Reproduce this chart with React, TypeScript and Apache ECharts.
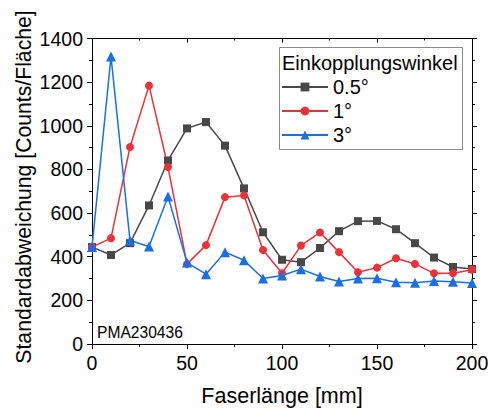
import React, { useEffect, useRef } from "react";
import * as echarts from "echarts";

const fiberLength = [0, 10, 20, 30, 40, 50, 60, 70, 80, 90, 100, 110, 120, 130, 140, 150, 160, 170, 180, 190, 200];
const angle05 = [444, 408, 462, 635, 841, 988, 1017, 909, 713, 512, 386, 375, 440, 517, 563, 564, 526, 462, 396, 353, 344];
const angle1 = [444, 485, 903, 1184, 811, 366, 453, 673, 681, 431, 324, 451, 511, 421, 329, 350, 393, 367, 324, 324, 340];
const angle3 = [444, 1318, 474, 447, 676, 373, 320, 421, 384, 300, 314, 343, 309, 286, 300, 301, 283, 281, 289, 285, 279];
const seriesNames = ["0.5°", "1°", "3°"];
const xTicks = [0, 50, 100, 150, 200];
const yTicks = [0, 200, 400, 600, 800, 1000, 1200, 1400];

const FONT = "'Liberation Sans', Arial, sans-serif";

export default function App() {
  const ref = useRef<HTMLDivElement>(null);

  useEffect(() => {
    if (!ref.current) return;
    const chart = echarts.init(ref.current, null, { renderer: "svg" });
    const pairs = (ys: number[]) => fiberLength.map((x, i) => [x, ys[i]]);
    const mk = (name: string, ys: number[], color: string, symbol: string, size: number) => ({
      name,
      type: "line",
      data: pairs(ys),
      symbol,
      symbolSize: size,
      showSymbol: true,
      lineStyle: { color, width: 1.5 },
      itemStyle: { color },
      xAxisIndex: 0,
      yAxisIndex: 0,
    });

    const axisLine = { show: true, onZero: false, lineStyle: { color: "#000", width: 1 } };
    const plain = (v: number) => String(v);

    chart.setOption({
      animation: false,
      textStyle: { fontFamily: FONT },
      grid: { left: 92, right: 16, top: 38.5, bottom: 66, containLabel: false, outerBoundsMode: "none" },
      xAxis: [
        {
          type: "value",
          min: xTicks[0],
          max: xTicks[xTicks.length - 1],
          interval: 50,
          name: "Faserlänge [mm]",
          nameLocation: "middle",
          nameGap: 41,
          nameTextStyle: { fontSize: 21.5, color: "#000", fontFamily: FONT },
          axisLine,
          axisTick: { show: true, length: 5, lineStyle: { color: "#000" } },
          minorTick: { show: true, splitNumber: 2, length: 3, lineStyle: { color: "#000" } },
          axisLabel: { fontSize: 19.5, color: "#000", margin: 9, fontFamily: FONT, formatter: plain },
          splitLine: { show: false },
        },
        {
          type: "value",
          position: "top",
          min: 0,
          max: 200,
          interval: 50,
          axisLine,
          axisTick: { show: true, inside: true, length: 4, lineStyle: { color: "#000" } },
          minorTick: { show: true, splitNumber: 2, length: 2, lineStyle: { color: "#000" } },
          axisLabel: { show: false },
          splitLine: { show: false },
        },
      ],
      yAxis: [
        {
          type: "value",
          min: yTicks[0],
          max: yTicks[yTicks.length - 1],
          interval: 200,
          axisLine,
          axisTick: { show: true, length: 5, lineStyle: { color: "#000" } },
          minorTick: { show: true, splitNumber: 2, length: 3, lineStyle: { color: "#000" } },
          axisLabel: { fontSize: 19.5, color: "#000", margin: 9, fontFamily: FONT, formatter: plain },
          splitLine: { show: false },
        },
        {
          type: "value",
          position: "right",
          min: 0,
          max: 1400,
          interval: 200,
          axisLine,
          axisTick: { show: true, length: 5, lineStyle: { color: "#000" } },
          minorTick: { show: true, splitNumber: 2, length: 3, lineStyle: { color: "#000" } },
          axisLabel: { show: false },
          splitLine: { show: false },
        },
      ],
      legend: {
        orient: "vertical",
        left: 281,
        top: 77,
        itemWidth: 46,
        itemHeight: 11,
        itemGap: 4,
        padding: 0,
        textStyle: { fontSize: 20, color: "#000", fontFamily: FONT, lineHeight: 20 },
        data: seriesNames,
      },
      graphic: [
        {
          type: "rect",
          shape: { x: 279.5, y: 47.5, width: 183, height: 102 },
          style: { fill: "#fff", stroke: "#8a8a8a", lineWidth: 1 },
          z: -1,
        },
        {
          type: "text",
          x: 282,
          y: 63,
          style: {
            text: "Einkopplungswinkel",
            fontSize: 20,
            fontFamily: FONT,
            fill: "#000",
            verticalAlign: "middle",
          },
        },
        {
          type: "text",
          x: 23,
          y: 187,
          rotation: Math.PI / 2,
          style: {
            text: "Standardabweichung [Counts/Fläche]",
            fontSize: 21.2,
            fontFamily: FONT,
            fill: "#000",
            align: "center",
            verticalAlign: "middle",
          },
        },
        {
          type: "text",
          x: 97,
          y: 332,
          style: {
            text: "PMA230436",
            fontSize: 15.6,
            fontFamily: FONT,
            fill: "#000",
            verticalAlign: "middle",
          },
        },
      ],
      series: [
        mk(seriesNames[0], angle05, "#484848", "rect", 8),
        mk(seriesNames[1], angle1, "#ee3039", "circle", 8),
        mk(seriesNames[2], angle3, "#1b6fe6", "triangle", 10),
      ],
    });

    return () => chart.dispose();
  }, []);

  return <div ref={ref} style={{ width: 488, height: 410, position: "absolute", left: 0, top: 0 }} />;
}
